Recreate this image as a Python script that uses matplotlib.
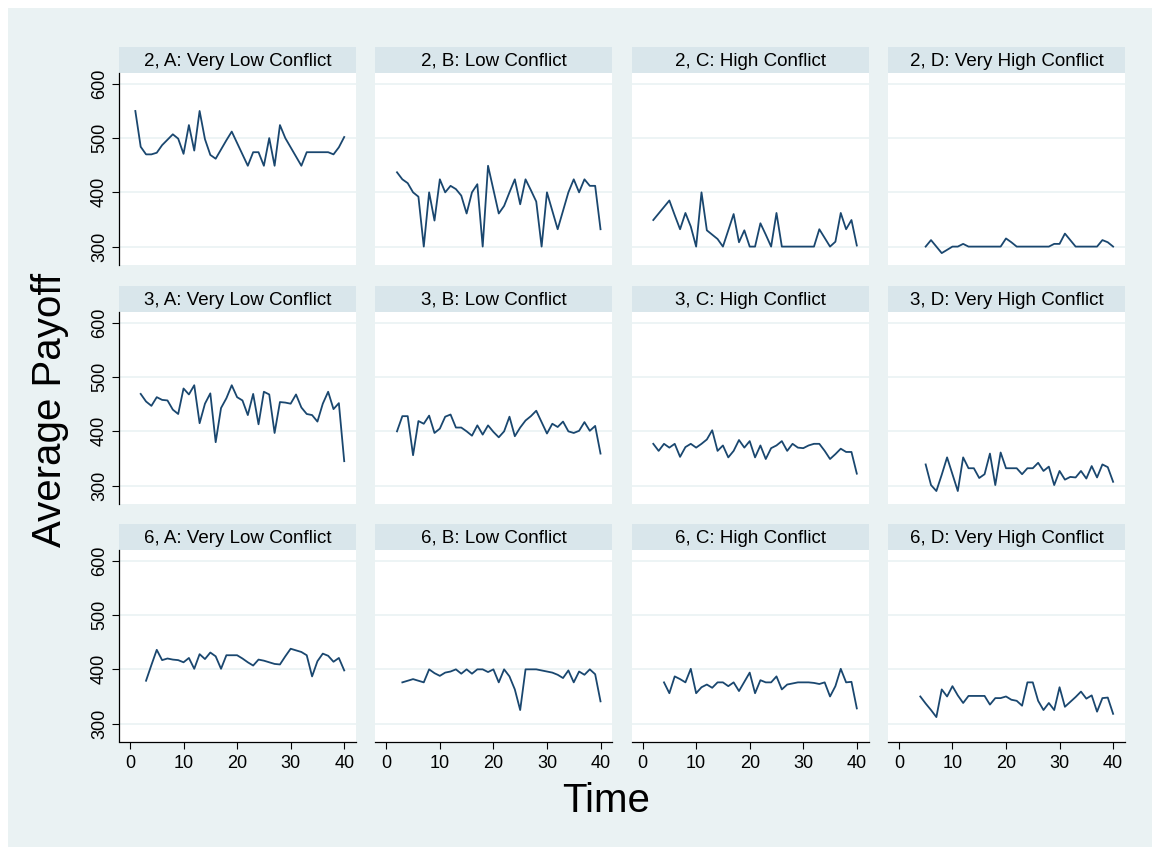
import numpy as np
import matplotlib
matplotlib.use("Agg")
import matplotlib.pyplot as plt
from matplotlib.patches import Rectangle

plt.rcParams['font.family'] = ['Liberation Sans', 'DejaVu Sans']

groups = ["2", "3", "6"]
conflicts = ["A: Very Low Conflict", "B: Low Conflict", "C: High Conflict", "D: Very High Conflict"]
x_ticks = [0, 10, 20, 30, 40]
y_ticks = [300, 400, 500, 600]

# first period of each series (row = group, col = conflict level)
start_2 = [1, 2, 2, 5]
start_3 = [2, 2, 2, 5]
start_6 = [3, 3, 4, 4]

pay_2A = [550, 484, 470, 470, 473, 487, 497, 507, 499, 471, 524, 477, 550, 498, 469, 462, 479, 496, 512, 491,
          470, 449, 474, 474, 449, 500, 449, 524, 500, 483, 466, 449, 474, 474, 474, 474, 474, 470, 483, 502]
pay_2B = [437, 424, 417, 400, 392, 300, 400, 348, 424, 400, 412, 406, 394, 361, 400, 415, 300, 449, 405, 361,
          375, 400, 424, 378, 424, 404, 383, 300, 400, 366, 332, 366, 400, 424, 400, 424, 412, 412, 332]
pay_2C = [349, 361, 373, 385, 358, 332, 362, 337, 300, 400, 330, 322, 314, 300, 330, 360, 308, 330, 300, 300,
          343, 322, 300, 362, 300, 300, 300, 300, 300, 300, 300, 332, 316, 300, 309, 362, 332, 349, 302]
pay_2D = [300, 312, 300, 288, 294, 300, 300, 305, 300, 300, 300, 300, 300, 300, 300, 315, 308, 300, 300, 300,
          300, 300, 300, 300, 305, 305, 324, 312, 300, 300, 300, 300, 300, 312, 308, 300]

pay_3A = [469, 455, 447, 463, 458, 457, 440, 432, 479, 468, 485, 415, 451, 470, 380, 443, 461, 485, 463, 457,
          430, 469, 413, 473, 468, 397, 454, 453, 451, 468, 444, 432, 430, 418, 451, 473, 441, 452, 345]
pay_3B = [400, 428, 428, 356, 419, 414, 429, 397, 405, 427, 431, 407, 407, 400, 392, 411, 394, 411, 399, 389,
          400, 427, 391, 407, 420, 428, 438, 417, 396, 414, 408, 418, 400, 397, 401, 417, 401, 410, 359]
pay_3C = [377, 364, 377, 370, 377, 353, 371, 377, 370, 377, 385, 402, 364, 374, 352, 364, 384, 370, 382, 352,
          374, 349, 369, 374, 382, 364, 377, 370, 369, 374, 377, 377, 364, 349, 358, 368, 362, 362, 322]
pay_3D = [339, 301, 290, 320, 352, 321, 290, 352, 332, 332, 314, 321, 359, 301, 361, 332, 332, 332, 321, 332,
          332, 342, 327, 335, 301, 327, 311, 316, 315, 327, 313, 336, 315, 339, 334, 307]

pay_6A = [379, 408, 436, 417, 420, 418, 417, 413, 421, 401, 428, 419, 431, 424, 401, 426, 426, 426, 420, 413,
          407, 418, 416, 413, 410, 409, 424, 438, 435, 432, 426, 387, 415, 429, 425, 414, 421, 398]
pay_6B = [376, 379, 382, 379, 376, 400, 393, 388, 394, 396, 400, 392, 400, 392, 400, 400, 395, 400, 376, 400,
          387, 363, 325, 400, 400, 400, 398, 396, 394, 390, 384, 398, 376, 396, 390, 400, 391, 341]
pay_6C = [376, 356, 387, 382, 376, 401, 356, 367, 372, 366, 376, 376, 369, 376, 360, 377, 394, 356, 380, 376,
          376, 387, 363, 372, 374, 376, 376, 376, 375, 373, 376, 350, 369, 401, 376, 377, 328]
pay_6D = [350, 337, 325, 312, 363, 350, 369, 352, 338, 351, 351, 351, 351, 335, 347, 347, 350, 344, 342, 333,
          376, 376, 342, 325, 338, 325, 367, 331, 340, 349, 359, 346, 352, 322, 347, 348, 318]

starts = [start_2, start_3, start_6]
payoffs = [[pay_2A, pay_2B, pay_2C, pay_2D],
           [pay_3A, pay_3B, pay_3C, pay_3D],
           [pay_6A, pay_6B, pay_6C, pay_6D]]

BG = "#EAF2F3"
STRIP = "#D9E6EB"
LINE = "#1A476F"
W, H = 1160, 850


def box(x0, y0, x1, y1):
    return [x0 / W, 1 - y1 / H, (x1 - x0) / W, (y1 - y0) / H]


fig = plt.figure(figsize=(11.6, 8.5), dpi=100)
fig.patch.set_facecolor("white")
fig.patches.append(Rectangle((8 / W, 3 / H), (W - 16) / W, (H - 11) / H,
                             transform=fig.transFigure, facecolor=BG, edgecolor="none", zorder=-10))

col_x = [119, 375.3, 631.6, 887.9]
strip_y = [47, 286, 524]
plot_w = 237
strip_h = 26
plot_h = 191.5

for r in range(3):
    for c in range(4):
        x0 = col_x[c]
        sy = strip_y[r]
        py0 = sy + strip_h
        py1 = py0 + plot_h

        sax = fig.add_axes(box(x0, sy, x0 + plot_w, py0))
        sax.set_facecolor(STRIP)
        sax.set_xticks([])
        sax.set_yticks([])
        for s in sax.spines.values():
            s.set_visible(False)
        sax.text(0.5, 0.45, groups[r] + ", " + conflicts[c], ha="center", va="center",
                 fontsize=13.5, transform=sax.transAxes)

        ax = fig.add_axes(box(x0, py0, x0 + plot_w, py1))
        ax.set_facecolor("white")
        vals = payoffs[r][c]
        t = np.arange(starts[r][c], starts[r][c] + len(vals))
        ax.plot(t, vals, color=LINE, lw=1.3)
        ax.set_xlim(-2.05, 42.2)
        ax.set_ylim(267, 620)
        ax.set_yticks(y_ticks)
        ax.set_xticks(x_ticks)
        ax.grid(axis="y", color=BG, lw=1.2)
        ax.set_axisbelow(True)
        for s in ["top", "right"]:
            ax.spines[s].set_visible(False)
        ax.spines["left"].set_visible(c == 0)
        ax.spines["bottom"].set_visible(r == 2)
        ax.spines["left"].set_linewidth(0.9)
        ax.spines["bottom"].set_linewidth(0.9)
        ax.tick_params(axis="y", left=(c == 0), labelleft=(c == 0), length=5, width=0.8,
                       labelsize=13, pad=3)
        ax.tick_params(axis="x", bottom=(r == 2), labelbottom=(r == 2), length=5, width=0.8,
                       labelsize=13, pad=5)
        if c == 0:
            for lab in ax.get_yticklabels():
                lab.set_rotation(90)
                lab.set_va("center")

fig.text(50 / W, 1 - 410 / H, "Average Payoff", rotation=90, ha="center", va="center", fontsize=29)
fig.text(606 / W, 1 - 801 / H, "Time", ha="center", va="center", fontsize=29)

fig.savefig("out.png", dpi=100, facecolor=fig.get_facecolor())
